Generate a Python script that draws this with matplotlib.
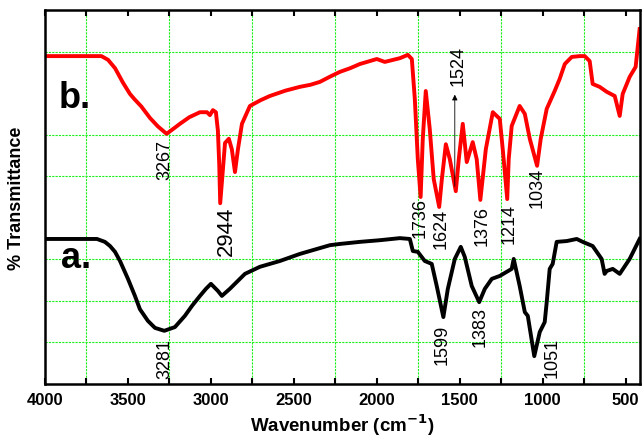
import matplotlib.pyplot as plt
import numpy as np

plt.rcParams['font.family'] = ['Liberation Sans', 'DejaVu Sans']

# spectrum b (red)
b_wn = [4000, 3819, 3660, 3620, 3578, 3530, 3488, 3460, 3420, 3367, 3320, 3267,
        3220, 3187, 3130, 3066, 3024, 3006, 2988, 2970, 2958, 2950, 2944, 2915,
        2892, 2874, 2855, 2837, 2813, 2765, 2700, 2645, 2550, 2464, 2400, 2343,
        2280, 2223, 2160, 2102, 2000, 1952, 1861, 1813, 1789, 1771, 1753, 1736,
        1723, 1705, 1681, 1657, 1624, 1608, 1584, 1560, 1524, 1506, 1482, 1458,
        1422, 1398, 1376, 1343, 1301, 1259, 1241, 1214, 1205, 1187, 1139, 1108,
        1078, 1034, 1012, 976, 928, 898, 867, 825, 777, 747, 717, 699, 657, 614,
        566, 536, 518, 476, 440, 416]
b_t = [78.9, 78.9, 78.9, 78.0, 76.0, 72.5, 69.8, 68.5, 66.8, 64.0, 62.0, 60.2,
       61.6, 62.6, 64.2, 65.4, 65.4, 64.7, 65.9, 65.4, 61.0, 53.0, 43.5, 58.0,
       59.0, 56.5, 51.0, 56.5, 62.6, 66.9, 68.3, 69.3, 70.6, 71.5, 72.0, 72.7,
       74.0, 75.1, 76.0, 77.0, 78.2, 77.5, 78.4, 79.2, 78.2, 68.6, 54.1, 45.0,
       59.0, 70.5, 61.4, 49.3, 42.6, 49.3, 57.7, 54.1, 46.4, 54.1, 62.6, 53.4,
       58.2, 54.1, 44.3, 56.5, 65.4, 63.8, 56.5, 44.5, 54.1, 62.1, 66.9, 65.0,
       59.0, 52.5, 59.0, 66.2, 70.5, 73.4, 77.0, 78.7, 78.9, 78.9, 77.7, 72.2,
       71.5, 70.3, 69.3, 64.5, 69.8, 73.9, 76.3, 85.4]

# spectrum a (black)
a_wn = [4000, 3687, 3639, 3608, 3578, 3548, 3500, 3458, 3428, 3380, 3337, 3281,
        3217, 3157, 3114, 3066, 3030, 3000, 2958, 2934, 2886, 2795, 2705, 2584,
        2464, 2283, 2223, 2102, 1982, 1861, 1801, 1783, 1753, 1711, 1669, 1639,
        1599, 1572, 1530, 1494, 1470, 1428, 1383, 1349, 1307, 1259, 1187, 1175,
        1139, 1108, 1090, 1051, 1018, 988, 976, 958, 940, 916, 855, 795, 759,
        699, 645, 627, 614, 578, 536, 476, 416]
a_t = [34.9, 34.9, 34.2, 33.2, 31.8, 29.6, 25.3, 21.2, 18.0, 15.2, 13.5, 12.8,
       13.7, 16.4, 18.8, 21.2, 22.9, 24.1, 22.4, 21.2, 22.9, 26.5, 28.2, 29.6,
       31.3, 33.4, 33.7, 34.2, 34.6, 35.1, 34.9, 32.0, 31.8, 29.6, 28.9, 23.6,
       16.1, 22.9, 30.1, 33.0, 30.6, 23.6, 19.7, 22.9, 25.3, 26.0, 27.7, 30.1,
       23.6, 17.3, 16.4, 6.7, 12.5, 14.9, 19.7, 27.7, 28.9, 34.2, 34.4, 34.9,
       34.2, 33.2, 30.1, 26.5, 27.2, 27.7, 26.5, 30.1, 34.9]

# peak labels: text, x, y
b_peaks = ['3267', '1736', '1624', '1376', '1214', '1034']
b_peak_x = [3277, 1741, 1615, 1368, 1205, 1036]
b_peak_y = [54.1, 40.2, 37.5, 38.3, 38.7, 47.4]
a_peaks = ['3281', '1599', '1383', '1051']
a_peak_x = [3277, 1608, 1380, 946]
a_peak_y = [6.3, 9.6, 14.0, 6.5]

fig = plt.figure(figsize=(6.43, 4.39), dpi=100)
ax = fig.add_axes([0.070, 0.123, 0.925, 0.852])

ax.plot(b_wn, b_t, color='red', lw=2.8, solid_joinstyle='round')
ax.plot(a_wn, a_t, color='black', lw=2.8, solid_joinstyle='round')

ax.set_xlim(4000, 415)
ax.set_ylim(0, 90)

ax.set_xticks(np.arange(4000, 400, -500))
ax.set_xticks(np.arange(3750, 400, -250), minor=True)
ax.set_yticks([])
ax.set_yticks([10, 20, 30, 50, 60, 80], minor=True)
ax.tick_params(axis='x', which='both', direction='in', top=True, length=4,
               width=1.5, labelsize=12, pad=6)
ax.tick_params(axis='y', which='minor', length=0)
for lbl in ax.get_xticklabels():
    lbl.set_fontweight('bold')

ax.grid(True, which='minor', color='#1ef01e', linestyle=(0, (2, 1)), lw=0.8)
for s in ax.spines.values():
    s.set_linewidth(1.8)

for t, x, y in zip(b_peaks, b_peak_x, b_peak_y):
    ax.text(x, y, t, rotation=90, ha='center', va='center', fontsize=13)
for t, x, y in zip(a_peaks, a_peak_x, a_peak_y):
    ax.text(x, y, t, rotation=90, ha='center', va='center', fontsize=13)
ax.text(2904, 37.1, '2944', rotation=90, ha='center', va='center', fontsize=16)

ax.annotate('', xy=(1530, 70.3), xytext=(1530, 46.9),
            arrowprops=dict(arrowstyle='-|>', color='black', lw=0.6,
                            mutation_scale=8))
ax.text(1512, 76.8, '1524', rotation=90, ha='center', va='center', fontsize=13)

ax.text(3820, 69.0, 'b.', fontsize=26, fontweight='bold', ha='center', va='center')
ax.text(3815, 30.5, 'a.', fontsize=26, fontweight='bold', ha='center', va='center')

ax.set_xlabel('Wavenumber (cm$^{\\mathbf{-1}}$)', fontsize=13.5, fontweight='bold',
              labelpad=3)
ax.set_ylabel('% Transmittance', fontsize=13, fontweight='bold', labelpad=11)

plt.savefig('out.png', dpi=100)
